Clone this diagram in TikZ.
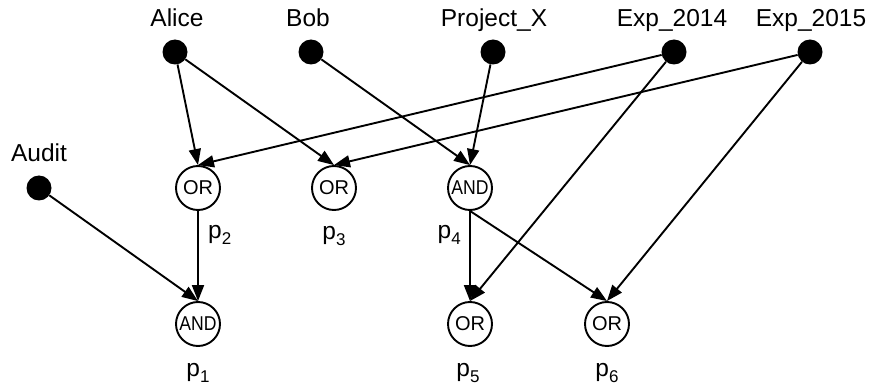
\documentclass[tikz,border=0pt]{standalone}
\usepackage{fontspec}
\setmainfont{Liberation Sans}
\usetikzlibrary{arrows.meta}
\newcommand{\plab}[1]{p\raisebox{-0.25em}{\fontsize{17}{17}\selectfont #1}}
\begin{document}
\begin{tikzpicture}[x=1pt,y=-1pt,
  src/.style={circle,fill=black,inner sep=0pt,minimum size=25pt},
  gate/.style={circle,draw=black,line width=1.9pt,inner sep=0pt,minimum size=44pt,font=\fontsize{20}{20}\selectfont},
  lbl/.style={anchor=base,inner sep=0pt,font=\fontsize{24.5}{24.5}\selectfont},
  conn/.style={line width=1.9pt,-{Triangle[length=16pt,width=12pt]}}]
\useasboundingbox (0,0) rectangle (871,385);
% sources
\node[src] (alice) at (175,52) {};
\node[src] (bob) at (311,52) {};
\node[src] (px) at (493,52) {};
\node[src] (e14) at (674,52) {};
\node[src] (e15) at (810,52) {};
\node[src] (audit) at (39,188) {};
\node[lbl] (lalice) at (177,27) {Alice};
\node[lbl] (lbob) at (308,27) {Bob};
\node[lbl] (lpx) at (494,27) {Project\_X};
\node[lbl] (le14) at (672,27) {Exp\_2014};
\node[lbl] (le15) at (811,27) {Exp\_2015};
\node[lbl] (laudit) at (39,161.5) {Audit};
% gates
\node[gate] (p2) at (198,188) {OR};
\node[gate] (p3) at (334,188) {OR};
\node[gate] (p4) at (470,188) {\scalebox{0.88}[1]{AND}};
\node[gate] (p1) at (198,324) {\scalebox{0.88}[1]{AND}};
\node[gate] (p5) at (470,324) {OR};
\node[gate] (p6) at (607,324) {OR};
% gate labels
\node[lbl,anchor=base west] (lp2) at (208,238.5) {\plab{2}};
\node[lbl] (lp3) at (334,239.5) {\plab{3}};
\node[lbl,anchor=base east] (lp4) at (461,238.5) {\plab{4}};
\node[lbl] (lp1) at (198,376.5) {\plab{1}};
\node[lbl] (lp5) at (468,376.5) {\plab{5}};
\node[lbl] (lp6) at (607,376.5) {\plab{6}};
% connectors
\draw[conn] (alice) -- (p2.north);
\draw[conn] (alice) -- (p3.north);
\draw[conn] (e14) -- (p2.north);
\draw[conn] (e15) -- (p3.north);
\draw[conn] (bob) -- (p4.north);
\draw[conn] (px) -- (p4.north);
\draw[conn] (e14) -- (p5.north);
\draw[conn] (e15) -- (p6.north);
\draw[conn] (audit) -- (p1.north);
\draw[conn] (p2.south) -- (p1.north);
\draw[conn] (p4.south) -- (p5.north);
\draw[conn] (p4.south) -- (p6.north);
\end{tikzpicture}
\end{document}
